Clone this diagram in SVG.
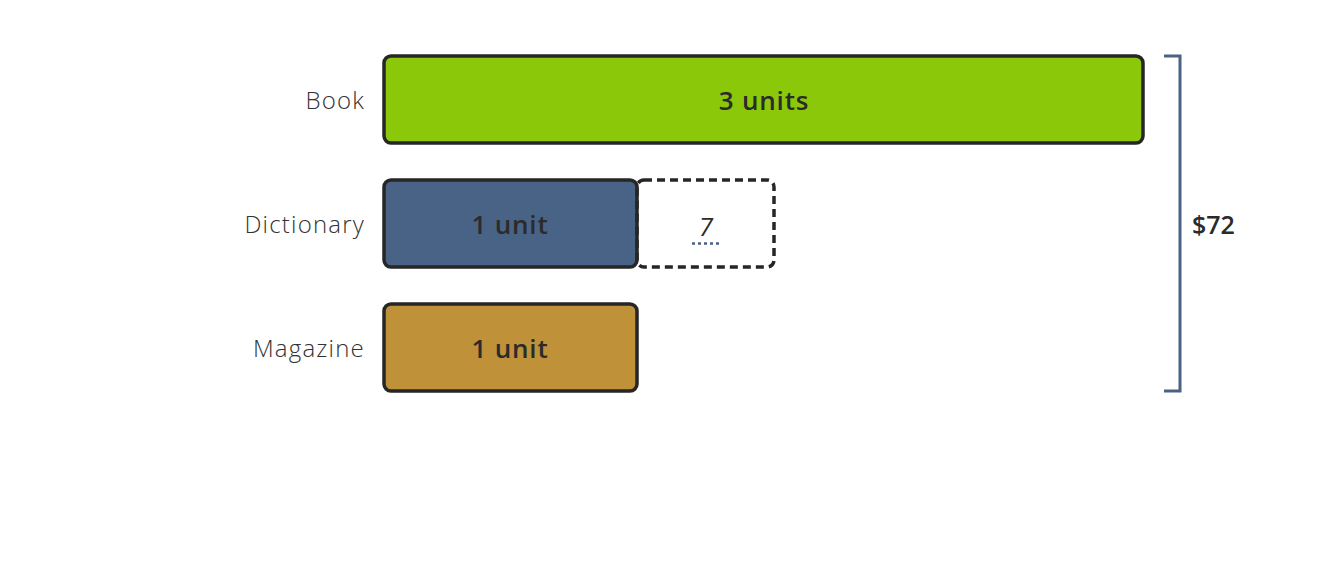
<svg xmlns="http://www.w3.org/2000/svg" width="1328" height="568" viewBox="0 0 1328 568">
<style>
.bar{stroke:#262626;stroke-width:3.5}
.lbl{font-family:"Open Sans","Liberation Sans",sans-serif;font-weight:300;font-size:24px;letter-spacing:1.2px;fill:#333;text-anchor:end}
.in{font-family:"Open Sans","Liberation Sans",sans-serif;font-weight:600;font-size:26px;letter-spacing:0.8px;fill:#2b2b2b;text-anchor:middle}
</style>
<rect width="1328" height="568" fill="#fff"/>
<g id="book">
<rect class="bar" x="384" y="56" width="759" height="87" rx="7" fill="#8bc80a"/>
<text class="in" x="764" y="110">3 units</text>
<text class="lbl" x="365" y="109">Book</text>
</g>
<g id="dictionary">
<rect class="bar" x="384" y="180" width="253" height="87" rx="7" fill="#486385"/>
<text class="in" x="510" y="234">1 unit</text>
<text class="lbl" x="365" y="233">Dictionary</text>
</g>
<g id="unknown">
<rect x="637" y="180" width="137" height="87" rx="7" fill="none" stroke="#262626" stroke-width="3.5" stroke-dasharray="8 5"/>
<text x="706" y="236" font-family="'Open Sans','Liberation Sans',sans-serif" font-style="italic" font-size="26" fill="#2b2b2b" text-anchor="middle">7</text>
<line x1="692" y1="243.5" x2="720" y2="243.5" stroke="#4a6285" stroke-width="2.5" stroke-dasharray="3 3"/>
</g>
<g id="magazine">
<rect class="bar" x="384" y="304" width="253" height="87" rx="7" fill="#bf9138"/>
<text class="in" x="510" y="358">1 unit</text>
<text class="lbl" x="365" y="357">Magazine</text>
</g>
<g id="connectors">
<polyline points="1164,56 1180,56 1180,391 1164,391" fill="none" stroke="#4a6285" stroke-width="3"/>
</g>
<g id="total">
<text x="1192" y="234" font-family="'Open Sans','Liberation Sans',sans-serif" font-weight="600" font-size="25" fill="#2b2b2b">$72</text>
</g>
</svg>
